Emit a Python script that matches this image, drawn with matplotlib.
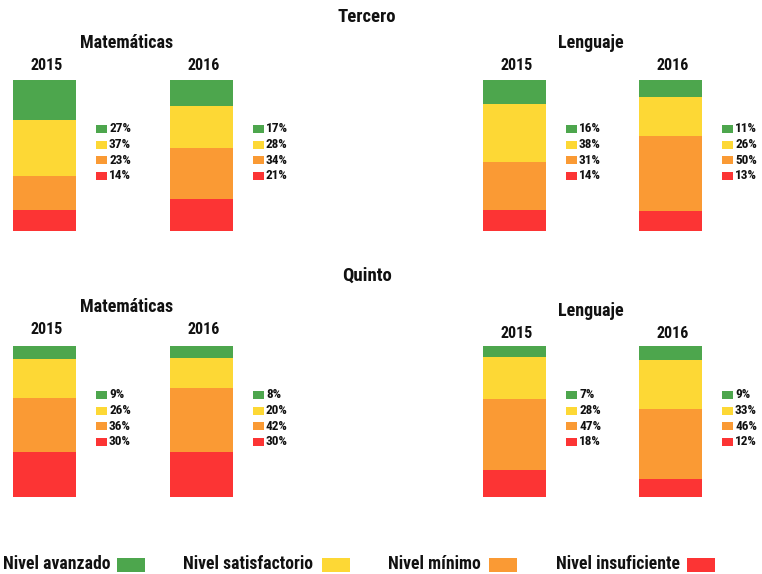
import matplotlib
matplotlib.use("Agg")
import matplotlib.pyplot as plt
from matplotlib.patches import Rectangle
from matplotlib import font_manager

names = {f.name for f in font_manager.fontManager.ttflist}
fam = [n for n in ["Roboto Condensed", "Liberation Sans Narrow", "Roboto", "DejaVu Sans"] if n in names]
plt.rcParams['font.family'] = fam

# Data
levels = ["Nivel avanzado", "Nivel satisfactorio", "Nivel mínimo", "Nivel insuficiente"]
colors = ["#4DA64D", "#FDD835", "#FA9A34", "#FC3434"]
grades = ["Tercero", "Quinto"]
subjects = ["Matemáticas", "Lenguaje"]
years = ["2015", "2016"]

tercero_mat_2015 = [27, 37, 23, 14]
tercero_mat_2016 = [17, 28, 34, 21]
tercero_len_2015 = [16, 38, 31, 14]
tercero_len_2016 = [11, 26, 50, 13]
quinto_mat_2015 = [9, 26, 36, 30]
quinto_mat_2016 = [8, 20, 42, 30]
quinto_len_2015 = [7, 28, 47, 18]
quinto_len_2016 = [9, 33, 46, 12]

data = {
    ("Tercero", "Matemáticas", "2015"): tercero_mat_2015,
    ("Tercero", "Matemáticas", "2016"): tercero_mat_2016,
    ("Tercero", "Lenguaje", "2015"): tercero_len_2015,
    ("Tercero", "Lenguaje", "2016"): tercero_len_2016,
    ("Quinto", "Matemáticas", "2015"): quinto_mat_2015,
    ("Quinto", "Matemáticas", "2016"): quinto_mat_2016,
    ("Quinto", "Lenguaje", "2015"): quinto_len_2015,
    ("Quinto", "Lenguaje", "2016"): quinto_len_2016,
}

W, H = 762, 574
fig = plt.figure(figsize=(W / 100, H / 100), dpi=100)

def fx(x):
    return x / W

def fy(y):
    return 1 - y / H

# layout (pixels)
bar_x = {("Matemáticas", "2015"): 13, ("Matemáticas", "2016"): 170,
         ("Lenguaje", "2015"): 483, ("Lenguaje", "2016"): 639}
bar_w = 63
grade_top = {"Tercero": 80, "Quinto": 346}
bar_h = 151
grade_title_y = {"Tercero": 17, "Quinto": 276}
subj_title_x = {"Matemáticas": 127, "Lenguaje": 591}
subj_title_y = {("Tercero", "Matemáticas"): 43, ("Tercero", "Lenguaje"): 43,
                ("Quinto", "Matemáticas"): 307, ("Quinto", "Lenguaje"): 311}
year_dy = 23
label_dy = {"Tercero": 129, "Quinto": 395}
row_h = 15.6

bold = dict(fontweight="bold", color="#111111")

for g in grades:
    fig.text(fx(367), fy(grade_title_y[g]), g, ha="center", va="center", fontsize=13.5, **bold)
    for s in subjects:
        sy = subj_title_y[(g, s)]
        fig.text(fx(subj_title_x[s]), fy(sy), s, ha="center", va="center", fontsize=13, **bold)
        for yr in years:
            vals = data[(g, s, yr)]
            x0 = bar_x[(s, yr)]
            top = grade_top[g]
            ax = fig.add_axes([fx(x0), fy(top + bar_h), bar_w / W, bar_h / H])
            bottom = 0
            for v, c in zip(vals[::-1], colors[::-1]):
                ax.bar(0, v, bottom=bottom, width=1, color=c, linewidth=0)
                bottom += v
            ax.set_xlim(-0.5, 0.5)
            ax.set_ylim(0, bottom)
            ax.axis("off")
            fig.text(fx(x0 + bar_w / 2 + 2), fy(sy + year_dy), yr, ha="center", va="center",
                     fontsize=11.5, **bold)
            # value labels
            lx = x0 + bar_w + 20
            for i, (v, c) in enumerate(zip(vals, colors)):
                yc = label_dy[g] + i * row_h
                fig.patches.append(Rectangle((fx(lx), fy(yc + 4)), 11 / W, 8 / H,
                                             transform=fig.transFigure, color=c, lw=0))
                fig.text(fx(lx + 13), fy(yc), f"{v}%", ha="left", va="center",
                         fontsize=9.5, **bold)

# bottom legend
leg_text_x = [3, 183, 388, 556]
leg_sq_x = [117, 322, 489, 687]
for name, c, tx, sx in zip(levels, colors, leg_text_x, leg_sq_x):
    fig.text(fx(tx), fy(564), name, ha="left", va="center", fontsize=12.7, **bold)
    fig.patches.append(Rectangle((fx(sx), fy(572)), 28 / W, 14 / H,
                                 transform=fig.transFigure, color=c, lw=0))

fig.savefig("out.png", dpi=100)
